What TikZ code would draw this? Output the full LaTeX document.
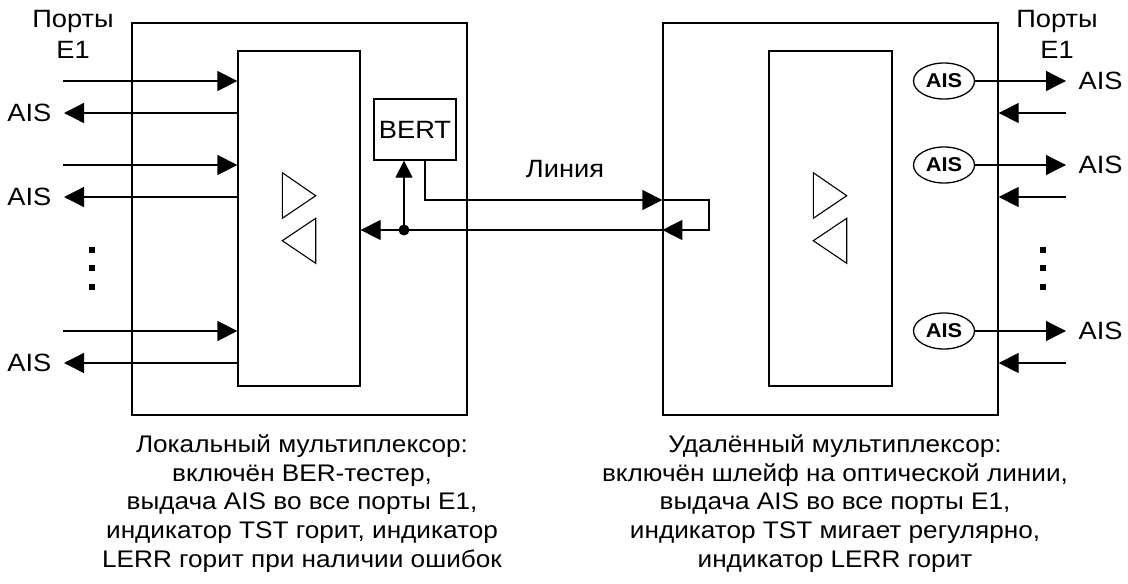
\documentclass[tikz,border=0pt]{standalone}
\usepackage{fontspec}
\setmainfont{Liberation Sans}[FakeStretch=1.09]
\usepackage{tikz}
\usetikzlibrary{arrows.meta, shapes, positioning, calc}

\begin{document}
\begin{tikzpicture}[x=1pt, y=-1pt, line width=1.3pt,
		>={Triangle[length=20pt, width=20pt]},
		box/.style={draw, rectangle, inner sep=0pt},
		lbl/.style={inner sep=0pt, font=\fontsize{25}{31}\selectfont, align=center},
		aisnode/.style={draw, ellipse, minimum width=61pt, minimum height=36pt, inner sep=0pt, font=\fontsize{20}{24}\selectfont\bfseries},
		capt/.style={inner sep=0pt, font=\fontsize{24}{28.7}\selectfont, align=center}]
			\useasboundingbox (0,0) rectangle (1128,584);

			\node[box, minimum width=335pt, minimum height=392pt](lmux) at (299.5,219) {};
			\node[box, minimum width=122pt, minimum height=335pt](lcore) at (299,218.5) {};
			\node[box, minimum width=82pt, minimum height=61pt, font=\fontsize{25}{30}\selectfont](bert) at (415,129.5) {BERT};

			\node[box, minimum width=335pt, minimum height=392pt](rmux) at (830.5,219) {};
			\node[box, minimum width=123pt, minimum height=335pt](rcore) at (830.5,218.5) {};

			\draw[line width=1.1pt] (282.3,172.7) -- (315.7,195.7) -- (282.3,218.3) -- cycle;
			\draw[line width=1.1pt] (315.7,218.3) -- (282.3,240.7) -- (315.7,263.3) -- cycle;
			\draw[line width=1.1pt] (813.3,172.7) -- (846.7,195.7) -- (813.3,218.3) -- cycle;
			\draw[line width=1.1pt] (846.7,218.3) -- (813.3,240.7) -- (846.7,263.3) -- cycle;

			\node[lbl](portsL) at (73,34) {Порты\\E1};
			\node[lbl](portsR) at (1057,34) {Порты\\E1};
			\node[lbl](line) at (565,169) {Линия};

			\coordinate(inL1) at (63,81);
			\coordinate(inL2) at (63,165);
			\coordinate(inL3) at (63,331);
			\coordinate(outL1) at (64,113);
			\coordinate(outL2) at (64,197);
			\coordinate(outL3) at (64,363);
			\node[lbl, left=12pt of outL1](aisL1) {AIS};
			\node[lbl, left=12pt of outL2](aisL2) {AIS};
			\node[lbl, left=12pt of outL3](aisL3) {AIS};

			\draw[->](inL1) -- (lcore.west |- inL1);
			\draw[->](inL2) -- (lcore.west |- inL2);
			\draw[->](inL3) -- (lcore.west |- inL3);
			\draw[->](lcore.west |- outL1) -- (outL1);
			\draw[->](lcore.west |- outL2) -- (outL2);
			\draw[->](lcore.west |- outL3) -- (outL3);

			\node[aisnode](ais1) at (944,81) {AIS};
			\node[aisnode](ais2) at (944,165) {AIS};
			\node[aisnode](ais3) at (944,331) {AIS};
			\coordinate(outR1) at (1066,81);
			\coordinate(outR2) at (1066,165);
			\coordinate(outR3) at (1066,331);
			\coordinate(inR1) at (1066,113);
			\coordinate(inR2) at (1066,197);
			\coordinate(inR3) at (1066,363);
			\node[lbl, right=12pt of outR1](aisR1) {AIS};
			\node[lbl, right=12pt of outR2](aisR2) {AIS};
			\node[lbl, right=12pt of outR3](aisR3) {AIS};

			\draw[->](ais1) -- (outR1);
			\draw[->](ais2) -- (outR2);
			\draw[->](ais3) -- (outR3);
			\draw[->](inR1) -- (rmux.east |- inR1);
			\draw[->](inR2) -- (rmux.east |- inR2);
			\draw[->](inR3) -- (rmux.east |- inR3);

			\foreach \y in {250,268,287} {
				\fill (89,\y-3) rectangle (95,\y+3);
				\fill (1040,\y-3) rectangle (1046,\y+3);
			}

			\coordinate(lpA) at (709,200);
			\coordinate(lpB) at (709,230);
			\coordinate(tap) at (404,230);
			\draw[->]([xshift=10pt]bert.south) |- (rmux.west |- lpA);
			\draw[->](rmux.west |- lpA) -- (lpA) -- (lpB) -- (rmux.west |- lpB);
			\draw[->](rmux.west |- lpB) -- (lcore.east |- lpB);
			\fill (tap) circle (5.5pt);
			\draw[-{Triangle[length=17pt, width=17pt]}](tap) -- (bert.south -| tap);

			\node[capt, anchor=north](captL) at (302,434) {Локальный мультиплексор:\\включён BER-тестер,\\выдача AIS во все порты E1,\\индикатор TST горит, индикатор\\LERR горит при наличии ошибок};
			\node[capt, anchor=north](captR) at (835,434) {Удалённый мультиплексор:\\включён шлейф на оптической линии,\\выдача AIS во все порты E1,\\индикатор TST мигает регулярно,\\индикатор LERR горит};
		\end{tikzpicture}
\end{document}
